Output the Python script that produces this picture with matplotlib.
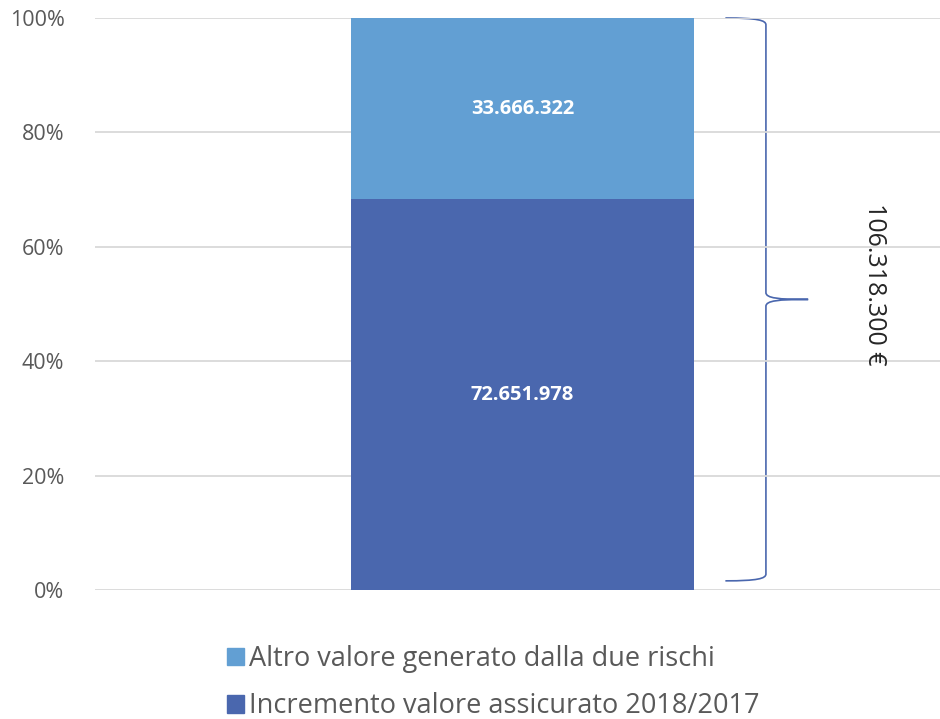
import numpy as np
import matplotlib.pyplot as plt
from matplotlib.path import Path
from matplotlib.patches import PathPatch, Patch
from matplotlib.transforms import blended_transform_factory
from matplotlib.ticker import PercentFormatter

plt.rcParams['font.family'] = ['Open Sans', 'DejaVu Sans']

# dati
categorie = ['2018/2017']
serie_nomi = ['Incremento valore assicurato 2018/2017', 'Altro valore generato dalla due rischi']
serie_valori = [72651978, 33666322]
colori = ['#4A67AE', '#629FD3']
totale_label = '106.318.300 €'


def fmt_it(v):
    return f'{v:,}'.replace(',', '.')


fig = plt.figure(figsize=(9.4, 7.19), dpi=100)
ax = fig.add_axes([95 / 940, 1 - 590 / 719, 845 / 940, 572 / 719])

tot = sum(serie_valori)
x = np.arange(len(categorie))
base = np.zeros(len(categorie))
for nome, val, col in zip(serie_nomi, serie_valori, colori):
    frac = np.array([val / tot])
    ax.bar(x, frac, bottom=base, width=0.405, color=col, label=nome, zorder=2)
    for xi, b, f in zip(x, base, frac):
        ax.text(xi, b + f / 2, fmt_it(val), ha='center', va='center',
                color='white', fontsize=14.5, fontweight='bold')
    base = base + frac

ax.set_xlim(-0.506, 0.494)
ax.set_ylim(0, 1)
ax.set_yticks(np.linspace(0, 1, 6))
ax.yaxis.set_major_formatter(PercentFormatter(1.0, decimals=0))
ax.set_xticks([])
ax.grid(axis='y', color='#D9D9D9', linewidth=1.3, zorder=0)
ax.tick_params(axis='y', length=0, pad=22, labelsize=15.5, labelcolor='#595959')
for s in ax.spines.values():
    s.set_visible(False)

# parentesi graffa
trans = blended_transform_factory(ax.transAxes, ax.transData)
top, bot = 1.0, 0.016
mid = (top + bot) / 2
x0, x1, xt = 0.746, 0.794, 0.844
r = 0.012
verts = [
    (x0, top), (x1 - 0.01, top), (x1, top - 0.004), (x1, top - r),
    (x1, mid + r),
    (x1, mid + 0.002), (x1 + 0.015, mid), (xt, mid),
    (x1 + 0.015, mid), (x1, mid - 0.002), (x1, mid - r),
    (x1, bot + r),
    (x1, bot + 0.004), (x1 - 0.01, bot), (x0, bot),
]
codes = [Path.MOVETO, Path.CURVE4, Path.CURVE4, Path.CURVE4,
         Path.LINETO,
         Path.CURVE4, Path.CURVE4, Path.CURVE4,
         Path.CURVE4, Path.CURVE4, Path.CURVE4,
         Path.LINETO,
         Path.CURVE4, Path.CURVE4, Path.CURVE4]
ax.add_patch(PathPatch(Path(verts, codes), transform=trans, fill=False,
                       edgecolor='#4A67AE', linewidth=1.2, clip_on=False))
ax.text(0.923, 0.535, totale_label, transform=trans, rotation=-90,
        ha='center', va='center', fontsize=18, color='#262626')

handles = [Patch(color=colori[1], label=serie_nomi[1]),
           Patch(color=colori[0], label=serie_nomi[0])]
leg = fig.legend(handles=handles, loc='upper left',
                 bbox_to_anchor=(216 / 940, 1 - 634 / 719), frameon=False,
                 fontsize=19.5, handlelength=0.62, handleheight=0.62,
                 handletextpad=0.2, labelspacing=0.72, borderaxespad=0)
for t in leg.get_texts():
    t.set_color('#595959')

fig.savefig('out.png', dpi=100)
